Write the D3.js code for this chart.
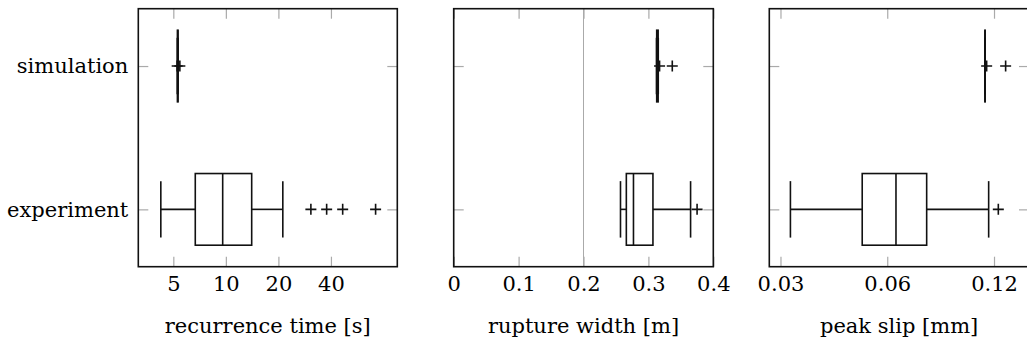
<!DOCTYPE html>
<html>
<head>
<meta charset="utf-8">
<script src="https://cdn.jsdelivr.net/npm/d3@7"></script>
<style>
  body { margin: 0; background: #fff; }
  text { font-family: "DejaVu Serif", serif; fill: #000; }
</style>
</head>
<body>
<script>
// categories, bottom to top
var categories = ["experiment", "simulation"];

// five-number summaries [low whisker, q1, median, q3, high whisker] per category
var recurrenceStats = [[4.24, 6.68, 9.59, 14.06, 21.2], [5.27, 5.28, 5.30, 5.32, 5.33]];
var recurrenceOutliers = [[30.7, 37.8, 46.7, 72.1], [5.26, 5.45]];
var recurrenceTicks = [5, 10, 20, 40];

var widthStats = [[0.257, 0.266, 0.277, 0.307, 0.365], [0.3125, 0.3128, 0.3137, 0.3150, 0.3152]];
var widthOutliers = [[0.375], [0.3172, 0.3368]];
var widthTicks = [0, 0.1, 0.2, 0.3, 0.4];
var widthGrid = [0.2];

var slipStats = [[0.0320, 0.0510, 0.0635, 0.0775, 0.1159], [0.1131, 0.1131, 0.1132, 0.1133, 0.1133]];
var slipOutliers = [[0.1234], [0.1144, 0.1294]];
var slipTicks = [0.03, 0.06, 0.12];

var W = 1027, H = 344;
var svg = d3.select("body").append("svg").attr("width", W).attr("height", H);

var yTop = 8.7, yBottom = 266.7;
var fontSize = 21;
var y = d3.scaleLinear().domain([0.6, 2.4]).range([yBottom, yTop]);

var panels = [
  { x0: 138.3, x1: 397.3, scale: d3.scaleLog().domain([3.15, 96]), ticks: recurrenceTicks,
    fmt: d3.format("d"), stats: recurrenceStats, outliers: recurrenceOutliers,
    label: "recurrence time [s]", grid: [], ylabels: true },
  { x0: 453.7, x1: 713.3, scale: d3.scaleLinear().domain([0, 0.4]), ticks: widthTicks,
    fmt: function(d) { return d === 0 ? "0" : d3.format(".1f")(d); }, stats: widthStats, outliers: widthOutliers,
    label: "rupture width [m]", grid: widthGrid, ylabels: false },
  { x0: 769.3, x1: 1029, scale: d3.scaleLog().domain([0.0279, 0.1506]), ticks: slipTicks,
    fmt: function(d) { return String(d); }, stats: slipStats, outliers: slipOutliers,
    label: "peak slip [mm]", grid: [], ylabels: false }
];

var tickColor = "#aaa";
var stroke = 1.6;

panels.forEach(function(p) {
  var x = p.scale.range([p.x0, p.x1]);
  var g = svg.append("g");

  // grid lines
  g.selectAll("line.grid").data(p.grid).enter().append("line")
    .attr("x1", function(d) { return x(d); }).attr("x2", function(d) { return x(d); })
    .attr("y1", yTop).attr("y2", yBottom)
    .attr("stroke", tickColor).attr("stroke-width", 1);

  // axes
  var xb = g.append("g").attr("transform", "translate(0," + yBottom + ")")
    .call(d3.axisBottom(x).tickValues(p.ticks).tickFormat(p.fmt).tickSize(-10).tickPadding(9));
  var xt = g.append("g").attr("transform", "translate(0," + yTop + ")")
    .call(d3.axisTop(x).tickValues(p.ticks).tickFormat("").tickSize(-10));
  var yl = g.append("g").attr("transform", "translate(" + p.x0 + ",0)")
    .call(d3.axisLeft(y).tickValues([1, 2]).tickFormat(function(d) { return p.ylabels ? categories[d - 1] : ""; })
      .tickSize(-10).tickPadding(10));
  var yr = g.append("g").attr("transform", "translate(" + p.x1 + ",0)")
    .call(d3.axisRight(y).tickValues([1, 2]).tickFormat("").tickSize(-10));

  [xb, xt, yl, yr].forEach(function(a) {
    a.select(".domain").remove();
    a.selectAll(".tick line").attr("stroke", tickColor).attr("stroke-width", 1.2);
    a.selectAll(".tick text").attr("font-size", fontSize).attr("font-family", "DejaVu Serif, serif").attr("fill", "#000");
  });

  // boxes
  var bx = g.selectAll("g.box").data(p.stats).enter().append("g");
  bx.each(function(s, i) {
    var b = d3.select(this), cy = y(i + 1);
    var bh = y(0) - y(0.25), ch = y(0) - y(0.197);
    b.append("line").attr("x1", x(s[0])).attr("x2", x(s[1])).attr("y1", cy).attr("y2", cy);
    b.append("line").attr("x1", x(s[3])).attr("x2", x(s[4])).attr("y1", cy).attr("y2", cy);
    b.append("line").attr("x1", x(s[0])).attr("x2", x(s[0])).attr("y1", cy - ch).attr("y2", cy + ch);
    b.append("line").attr("x1", x(s[4])).attr("x2", x(s[4])).attr("y1", cy - ch).attr("y2", cy + ch);
    b.append("rect").attr("x", x(s[1])).attr("y", cy - bh).attr("width", x(s[3]) - x(s[1])).attr("height", 2 * bh)
      .attr("fill", "none");
    b.append("line").attr("x1", x(s[2])).attr("x2", x(s[2])).attr("y1", cy - bh).attr("y2", cy + bh);
    b.selectAll("*").attr("stroke", "#111").attr("stroke-width", stroke);

    // outliers as plus marks
    b.selectAll("path.out").data(p.outliers[i]).enter().append("path")
      .attr("d", function(d) { var px = x(d); return "M" + (px - 5.5) + "," + cy + "H" + (px + 5.5) + "M" + px + "," + (cy - 5.5) + "V" + (cy + 5.5); })
      .attr("stroke", "#111").attr("stroke-width", stroke).attr("fill", "none");
  });

  // frame
  g.append("rect").attr("x", p.x0).attr("y", yTop).attr("width", p.x1 - p.x0).attr("height", yBottom - yTop)
    .attr("fill", "none").attr("stroke", "#111").attr("stroke-width", stroke);

  // axis label
  g.append("text").attr("x", (p.x0 + p.x1) / 2).attr("y", 333).attr("text-anchor", "middle")
    .attr("font-size", fontSize).text(p.label);
});
</script>
</body>
</html>
